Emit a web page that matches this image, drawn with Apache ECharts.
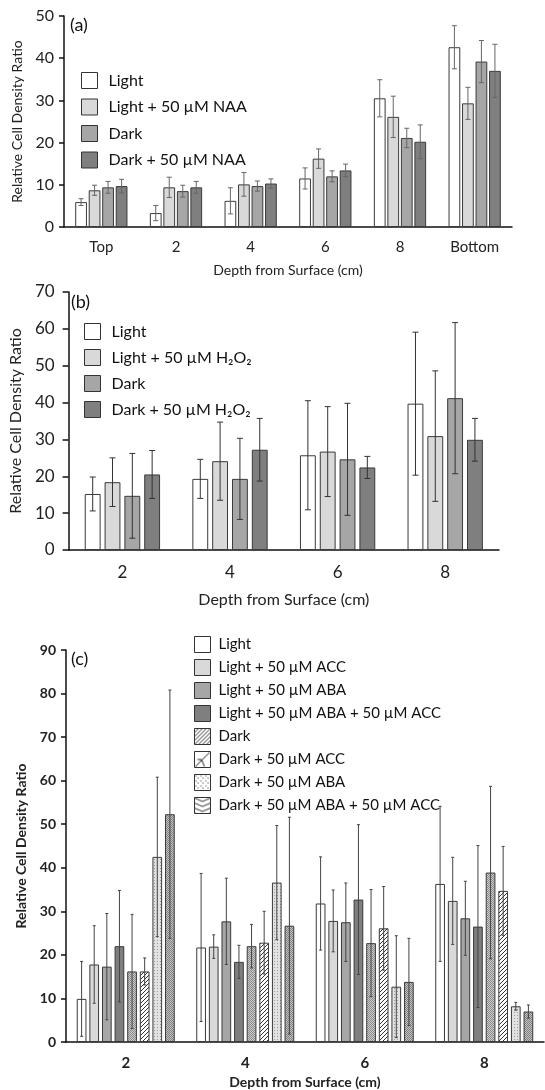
<!DOCTYPE html>
<html>
<head>
<meta charset="utf-8">
<script src="https://cdn.jsdelivr.net/npm/echarts@6/dist/echarts.min.js"></script>
<style>
html, body { margin: 0; padding: 0; background: #fff; }
#chart { width: 545px; height: 1090px; }
</style>
</head>
<body>
<div id="chart"></div>
<script>
// ---- panel (a) data ----
var catsA = ['Top', '2', '4', '6', '8', 'Bottom'];
var namesA = ['Light', 'Light + 50 µM NAA', 'Dark', 'Dark + 50 µM NAA'];
var valsA = [
  [5.9, 3.3, 6.2, 11.5, 30.5, 42.6],
  [8.7, 9.4, 10.1, 16.2, 26.1, 29.3],
  [9.4, 8.5, 9.7, 12.0, 21.1, 39.2],
  [9.7, 9.4, 10.3, 13.4, 20.2, 37.0]
];
var errA = [
  [0.8, 1.8, 3.1, 2.5, 4.4, 5.1],
  [1.2, 2.4, 2.8, 2.3, 4.9, 3.8],
  [1.4, 1.4, 1.2, 1.3, 2.3, 5.0],
  [1.6, 1.4, 1.1, 1.5, 4.0, 6.3]
];

// ---- panel (b) data ----
var catsB = ['2', '4', '6', '8'];
var namesB = ['Light', 'Light + 50 µM H₂O₂', 'Dark', 'Dark + 50 µM H₂O₂'];
var valsB = [
  [15.2, 19.3, 25.7, 39.7],
  [18.4, 24.1, 26.7, 30.9],
  [14.7, 19.3, 24.6, 41.2],
  [20.5, 27.2, 22.4, 29.9]
];
var errB = [
  [4.6, 5.3, 14.8, 19.4],
  [6.6, 10.6, 12.2, 17.7],
  [11.5, 11.0, 15.2, 20.5],
  [6.5, 8.5, 3.0, 5.8]
];

// ---- panel (c) data ----
var catsC = ['2', '4', '6', '8'];
var namesC = ['Light', 'Light + 50 µM ACC', 'Light + 50 µM ABA', 'Light + 50 µM ABA + 50 µM ACC',
  'Dark', 'Dark + 50 µM ACC', 'Dark + 50 µM ABA', 'Dark + 50 µM ABA + 50 µM ACC'];
var valsC = [
  [9.9, 21.7, 31.8, 36.3],
  [17.8, 21.9, 27.8, 32.4],
  [17.3, 27.7, 27.5, 28.4],
  [22.0, 18.4, 32.7, 26.5],
  [16.2, 22.0, 22.7, 38.9],
  [16.2, 22.8, 26.1, 34.7],
  [42.5, 36.6, 12.7, 8.2],
  [52.3, 26.7, 13.8, 7.0]
];
var errC = [
  [8.6, 17.0, 10.7, 17.8],
  [8.9, 2.7, 7.1, 10.0],
  [12.2, 9.9, 9.0, 8.5],
  [12.8, 3.8, 17.2, 18.6],
  [13.1, 5.0, 12.3, 19.8],
  [3.1, 7.2, 9.6, 10.2],
  [18.3, 13.1, 11.7, 0.9],
  [28.5, 24.9, 10.0, 1.5]
];

var FONT = 'Lato, "Open Sans", sans-serif';

// small canvas fill patterns
function pattern(w, h, draw) {
  var c = document.createElement('canvas');
  c.width = w; c.height = h;
  var ctx = c.getContext('2d');
  draw(ctx);
  return { image: c, repeat: 'repeat' };
}
var hatch = pattern(4, 4, function (ctx) {
  ctx.fillStyle = '#fff'; ctx.fillRect(0, 0, 4, 4);
  ctx.fillStyle = '#333';
  for (var i = 0; i < 4; i++) ctx.fillRect(i, 3 - i, 1, 1);
});
var checkGray = pattern(2, 2, function (ctx) {
  ctx.fillStyle = '#cdcdcd'; ctx.fillRect(0, 0, 2, 2);
  ctx.fillStyle = '#8a8a8a'; ctx.fillRect(0, 0, 1, 1); ctx.fillRect(1, 1, 1, 1);
});
var dotsLight = pattern(3, 3, function (ctx) {
  ctx.fillStyle = '#e2e2e2'; ctx.fillRect(0, 0, 3, 3);
  ctx.fillStyle = '#9a9a9a'; ctx.fillRect(1, 1, 1, 1);
});
var checkMid = pattern(2, 2, function (ctx) {
  ctx.fillStyle = '#c4c4c4'; ctx.fillRect(0, 0, 2, 2);
  ctx.fillStyle = '#7e7e7e'; ctx.fillRect(0, 0, 1, 1); ctx.fillRect(1, 1, 1, 1);
});
var iconAcc = pattern(16, 16, function (ctx) {
  ctx.fillStyle = '#fff'; ctx.fillRect(0, 0, 16, 16);
  ctx.strokeStyle = '#222'; ctx.lineWidth = 1;
  ctx.beginPath(); ctx.moveTo(1, 15); ctx.lineTo(15, 1); ctx.stroke();
  ctx.beginPath(); ctx.moveTo(3, 8); ctx.lineTo(7, 8); ctx.lineTo(10, 15); ctx.stroke();
});
var iconDots = pattern(5, 5, function (ctx) {
  ctx.fillStyle = '#fff'; ctx.fillRect(0, 0, 5, 5);
  ctx.fillStyle = '#444'; ctx.fillRect(1, 1, 1, 1); ctx.fillRect(3, 3, 1, 1);
});
var iconZig = pattern(16, 5, function (ctx) {
  ctx.fillStyle = '#fff'; ctx.fillRect(0, 0, 16, 5);
  ctx.strokeStyle = '#333'; ctx.lineWidth = 1;
  ctx.beginPath(); ctx.moveTo(0, 0.5); ctx.lineTo(8, 4); ctx.lineTo(16, 0.5); ctx.stroke();
});

var grays = ['#ffffff', '#d9d9d9', '#a6a6a6', '#7f7f7f'];
var fillsC = grays.concat([checkGray, hatch, dotsLight, checkMid]);
var legendFillsC = grays.concat([hatch, iconAcc, iconDots, iconZig]);

var panels = [
  { key: 'a', cats: catsA, names: namesA, vals: valsA, errs: errA, fills: grays, legendFills: grays,
    grid: { left: 64, top: 16, width: 448, height: 211 }, max: 50,
    catGap: 0.30, barGap: 0.15, cap: 5, errColor: '#666', bold: false,
    yFont: 16, xFont: 15, nameFont: 14, yNameGap: 36, xNameGap: 36, xMargin: 13, yMargin: 10, tick: 5,
    legend: { left: 81, top: 72, size: 16, gap: 9.5, font: 16, pad: 6 }, label: { left: 70, top: 16 } },
  { key: 'b', cats: catsB, names: namesB, vals: valsB, errs: errB, fills: grays, legendFills: grays,
    grid: { left: 67, top: 292, width: 432, height: 258 }, max: 70,
    catGap: 0.30, barGap: 0.25, cap: 6, errColor: '#333', bold: false,
    yFont: 17, xFont: 17, nameFont: 16, yNameGap: 40, xNameGap: 42, xMargin: 14, yMargin: 14, tick: 6,
    legend: { left: 84, top: 323, size: 16, gap: 9, font: 16, pad: 6 }, label: { left: 71, top: 293 } },
  { key: 'c', cats: catsC, names: namesC, vals: valsC, errs: errC, fills: fillsC, legendFills: legendFillsC,
    grid: { left: 66, top: 650, width: 478, height: 392 }, max: 90,
    catGap: 0.18, barGap: 0.30, cap: 3, errColor: '#444', bold: true,
    yFont: 14, xFont: 15, nameFont: 14, yNameGap: 33, xNameGap: 33, xMargin: 14, yMargin: 10, tick: 5,
    legend: { left: 194, top: 636, size: 16, gap: 6, font: 15, pad: 3 }, label: { left: 71, top: 650 } }
];

var option = {
  animation: false,
  backgroundColor: '#fff',
  textStyle: { fontFamily: FONT },
  title: [], grid: [], xAxis: [], yAxis: [], legend: [], series: []
};

panels.forEach(function (p, k) {
  var weight = p.bold ? 'bold' : 'normal';
  option.title.push({ text: '(' + p.key + ')', left: p.label.left, top: p.label.top, padding: 0,
    textStyle: { fontFamily: FONT, fontSize: 18, fontWeight: 'normal', color: '#111' } });
  option.grid.push(p.grid);
  option.xAxis.push({
    type: 'category', gridIndex: k, data: p.cats,
    name: 'Depth from Surface (cm)', nameLocation: 'middle', nameGap: p.xNameGap,
    nameTextStyle: { fontSize: p.nameFont, fontWeight: weight, color: '#222', fontFamily: FONT },
    axisLine: { lineStyle: { color: '#111', width: 1.5 } },
    axisTick: { length: p.tick, lineStyle: { color: '#111', width: 1.5 } },
    axisLabel: { fontSize: p.xFont, fontWeight: weight, color: '#222', margin: p.xMargin, fontFamily: FONT }
  });
  option.yAxis.push({
    type: 'value', gridIndex: k, min: 0, max: p.max, interval: 10,
    name: 'Relative Cell Density Ratio', nameLocation: 'middle', nameGap: p.yNameGap,
    nameTextStyle: { fontSize: p.nameFont, fontWeight: weight, color: '#222', fontFamily: FONT },
    axisLine: { show: true, lineStyle: { color: '#111', width: 1.5 } },
    axisTick: { show: true, length: p.tick, lineStyle: { color: '#111', width: 1.5 } },
    axisLabel: { fontSize: p.yFont, fontWeight: weight, color: '#222', margin: p.yMargin, fontFamily: FONT },
    splitLine: { show: false }
  });
  option.legend.push({
    orient: 'vertical', left: p.legend.left, top: p.legend.top, padding: 0,
    itemWidth: p.legend.size, itemHeight: p.legend.size, itemGap: p.legend.gap,
    selectedMode: false, icon: 'rect',
    itemStyle: { borderColor: '#333', borderWidth: 1 },
    textStyle: { fontSize: p.legend.font, lineHeight: p.legend.size, color: '#111', fontFamily: FONT,
      padding: [0, 0, 0, p.legend.pad] },
    formatter: function (n) { return n.slice(2); },
    data: p.names.map(function (n, s) {
      return { name: p.key + ':' + n, itemStyle: { color: p.legendFills[s], borderColor: '#333', borderWidth: 1 } };
    })
  });
  p.names.forEach(function (n, s) {
    option.series.push({
      type: 'bar', name: p.key + ':' + n, xAxisIndex: k, yAxisIndex: k,
      data: p.vals[s], barGap: (p.barGap * 100) + '%', barCategoryGap: (p.catGap * 100) + '%',
      itemStyle: { color: p.fills[s], borderColor: '#3a3a3a', borderWidth: 1 }
    });
  });
  // error bars
  var errData = [];
  p.vals.forEach(function (row, s) {
    row.forEach(function (v, i) { errData.push([i, v, p.errs[s][i], s]); });
  });
  var n = p.names.length;
  option.series.push({
    type: 'custom', name: p.key + ':err', xAxisIndex: k, yAxisIndex: k, z: 5,
    encode: { x: 0, y: 1 }, data: errData,
    renderItem: function (params, api) {
      var i = api.value(0), v = api.value(1), e = api.value(2), s = api.value(3);
      var band = api.size([1, 0])[0];
      var usable = band * (1 - p.catGap);
      var w = usable / (n + (n - 1) * p.barGap);
      var off = -usable / 2 + w / 2 + s * w * (1 + p.barGap);
      var x = api.coord([i, v])[0] + off;
      var y1 = api.coord([i, v + e])[1];
      var y2 = api.coord([i, Math.max(v - e, 0)])[1];
      var st = { stroke: p.errColor, lineWidth: 1 };
      var h = p.cap / 2;
      return { type: 'group', children: [
        { type: 'line', shape: { x1: x, y1: y1, x2: x, y2: y2 }, style: st },
        { type: 'line', shape: { x1: x - h, y1: y1, x2: x + h, y2: y1 }, style: st },
        { type: 'line', shape: { x1: x - h, y1: y2, x2: x + h, y2: y2 }, style: st }
      ] };
    }
  });
});

var chart = echarts.init(document.getElementById('chart'));
chart.setOption(option);
</script>
</body>
</html>
